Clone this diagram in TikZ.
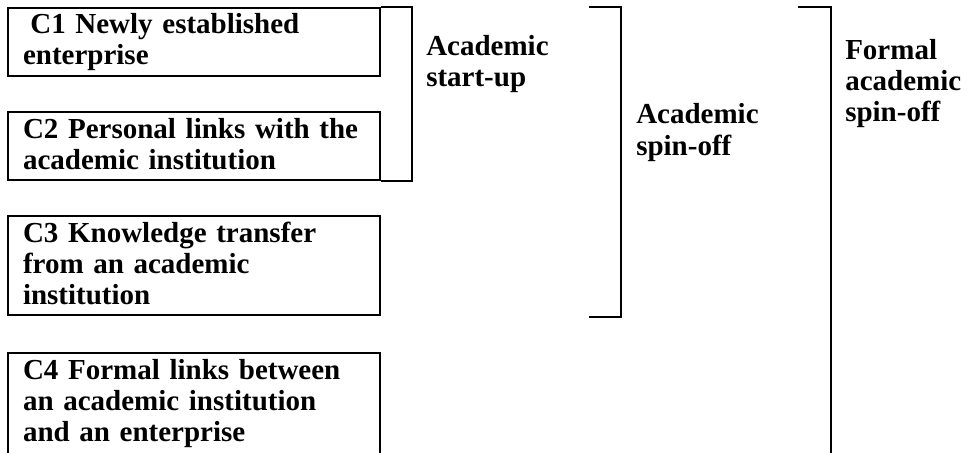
\documentclass[tikz,border=0pt]{standalone}
\usepackage{fontspec}
\setmainfont{Liberation Serif}
\usetikzlibrary{positioning}

\newcommand{\topstrut}{\rule{0pt}{19.5pt}}
\newcommand{\botstrut}{\rule[-8pt]{0pt}{8pt}}

\tikzset{
  crit/.style={draw, line width=1.5pt, anchor=north west, inner xsep=11.25pt,
    inner ysep=0pt, text width=256.5pt, minimum width=279pt, align=left,
    font=\fontsize{21.75pt}{23.25pt}\selectfont\bfseries},
  lbl/.style={anchor=base west, inner sep=0pt, align=left,
    font=\fontsize{21.75pt}{23.5pt}\selectfont\bfseries},
  brkt/.style={line width=1.5pt}
}

\begin{document}
\begin{tikzpicture}[x=0.75pt, y=-0.75pt]
        \useasboundingbox (0,0) rectangle (967,453);

        \node[crit] (c1) at (7,7)
            {\topstrut\hspace*{5.5pt}C1 Newly established\\enterprise\botstrut};
        \node[crit] (c2) at (7,111)
            {\topstrut C2 Personal links with the\\academic institution\botstrut};
        \node[crit] (c3) at (7,215)
            {\topstrut C3 Knowledge transfer\\from an academic\\institution\botstrut};
        % box runs on below the page edge
        \node[crit] (c4) at (7,352)
            {\topstrut C4 Formal links between\\an academic institution\\and an enterprise\rule[-25pt]{0pt}{25pt}};

        \node[lbl] (startup) at (426,87)  {Academic\\start-up};
        \node[lbl] (spinoff) at (636,155) {Academic\\spin-off};
        \node[lbl] (formal)  at (845,122) {Formal\\academic\\spin-off};

        \coordinate (s1) at (589,7);
        \coordinate (s2) at (589,317);
        \coordinate (f1) at (798,7);
        \coordinate (f2) at (831,470);

        \draw[brkt] (c1.north east) -- ++(31,0) |- (c2.south east);
        \draw[brkt] (s1) -- ++(32,0) |- (s2);
        \draw[brkt] (f1) -| (f2);
    \end{tikzpicture}
\end{document}
